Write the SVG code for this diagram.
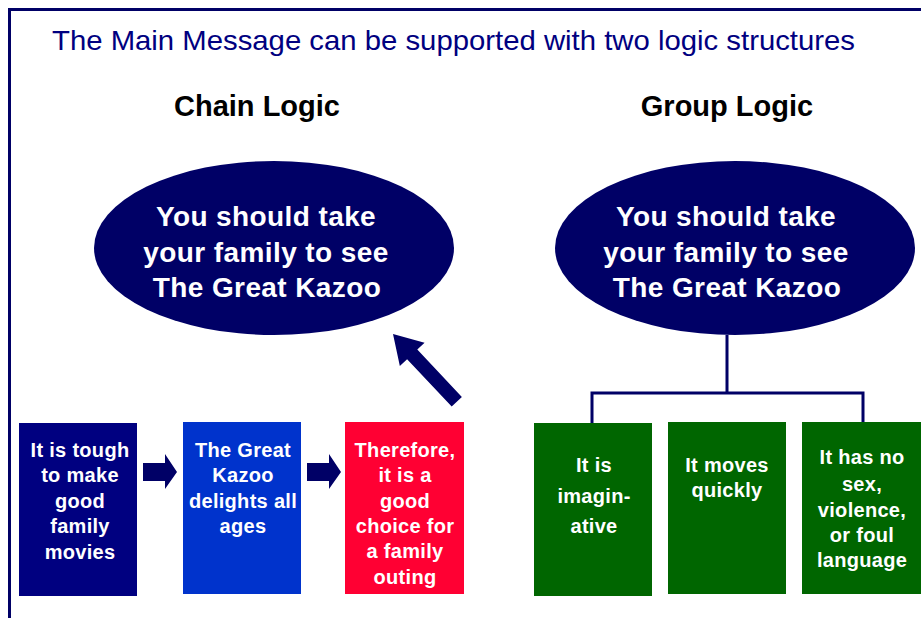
<svg xmlns="http://www.w3.org/2000/svg" width="921" height="618" viewBox="0 0 921 618">
<style>
.t{font-family:"Liberation Sans",Arial,sans-serif;font-weight:bold;fill:#fff;text-anchor:middle}
.e{font-size:28px;letter-spacing:0.4px}
.b{font-size:20px;letter-spacing:0.3px}
.h{font-family:"Liberation Sans",Arial,sans-serif;font-weight:bold;font-size:29px;fill:#000;text-anchor:middle}
.c{stroke:#000066;stroke-width:3;fill:none}
</style>
<rect width="921" height="618" fill="#fff"/>
<path d="M9.5 618 V9.5 H921" fill="none" stroke="#000066" stroke-width="3"/>
<text x="52" y="50" font-family="Liberation Sans, Arial, sans-serif" font-size="28" fill="#000080" textLength="803" lengthAdjust="spacingAndGlyphs">The Main Message can be supported with two logic structures</text>
<text class="h" x="257" y="116">Chain Logic</text>
<text class="h" x="727" y="116">Group Logic</text>
<g id="chain-main">
<ellipse cx="274" cy="248" rx="180" ry="87" fill="#000066"/>
<text class="t e"><tspan x="266" y="226">You should take</tspan><tspan x="266" y="262">your family to see</tspan><tspan x="267" y="297">The Great Kazoo</tspan></text>
</g>
<g id="group-main">
<ellipse cx="735" cy="248" rx="180" ry="87" fill="#000066"/>
<text class="t e"><tspan x="726" y="226">You should take</tspan><tspan x="726" y="262">your family to see</tspan><tspan x="727" y="297">The Great Kazoo</tspan></text>
</g>
<g id="box1">
<rect x="19" y="423" width="118" height="173" fill="#000080"/>
<text class="t b"><tspan x="80" y="457">It is tough</tspan><tspan x="80" y="482">to make</tspan><tspan x="80" y="508">good</tspan><tspan x="80" y="533">family</tspan><tspan x="80" y="559">movies</tspan></text>
</g>
<g id="box2">
<rect x="183" y="422" width="118" height="172" fill="#0033CC"/>
<text class="t b"><tspan x="243" y="457">The Great</tspan><tspan x="243" y="482">Kazoo</tspan><tspan x="243" y="508">delights all</tspan><tspan x="243" y="533">ages</tspan></text>
</g>
<g id="box3">
<rect x="345" y="422" width="119" height="172" fill="#FF0033"/>
<text class="t b"><tspan x="405" y="457">Therefore,</tspan><tspan x="405" y="482">it is a</tspan><tspan x="405" y="508">good</tspan><tspan x="405" y="533">choice for</tspan><tspan x="405" y="558">a family</tspan><tspan x="405" y="584">outing</tspan></text>
</g>
<g id="box4">
<rect x="534" y="423" width="118" height="173" fill="#006600"/>
<text class="t b"><tspan x="594" y="472">It is</tspan><tspan x="594" y="503">imagin-</tspan><tspan x="594" y="533">ative</tspan></text>
</g>
<g id="box5">
<rect x="668" y="422" width="118" height="172" fill="#006600"/>
<text class="t b"><tspan x="727" y="472">It moves</tspan><tspan x="727" y="497">quickly</tspan></text>
</g>
<g id="box6">
<rect x="802" y="422" width="125" height="172" fill="#006600"/>
<text class="t b"><tspan x="862" y="464">It has no</tspan><tspan x="862" y="491">sex,</tspan><tspan x="862" y="517">violence,</tspan><tspan x="862" y="542">or foul</tspan><tspan x="862" y="567">language</tspan></text>
</g>
<g id="connectors">
<polygon points="143,463 165,463 165,454 177,472 165,489 165,481 143,481" fill="#000066"/>
<polygon points="307,463 329,463 329,454 341,472 329,489 329,481 307,481" fill="#000066"/>
<polygon transform="translate(393,334) rotate(226.7)" points="0,0 -28,-17 -28,-7 -93,-7 -93,7 -28,7 -28,17" fill="#000066"/>
<path class="c" d="M727 335 V393 M592 423 V393 H863 V422"/>
</g>
</svg>
